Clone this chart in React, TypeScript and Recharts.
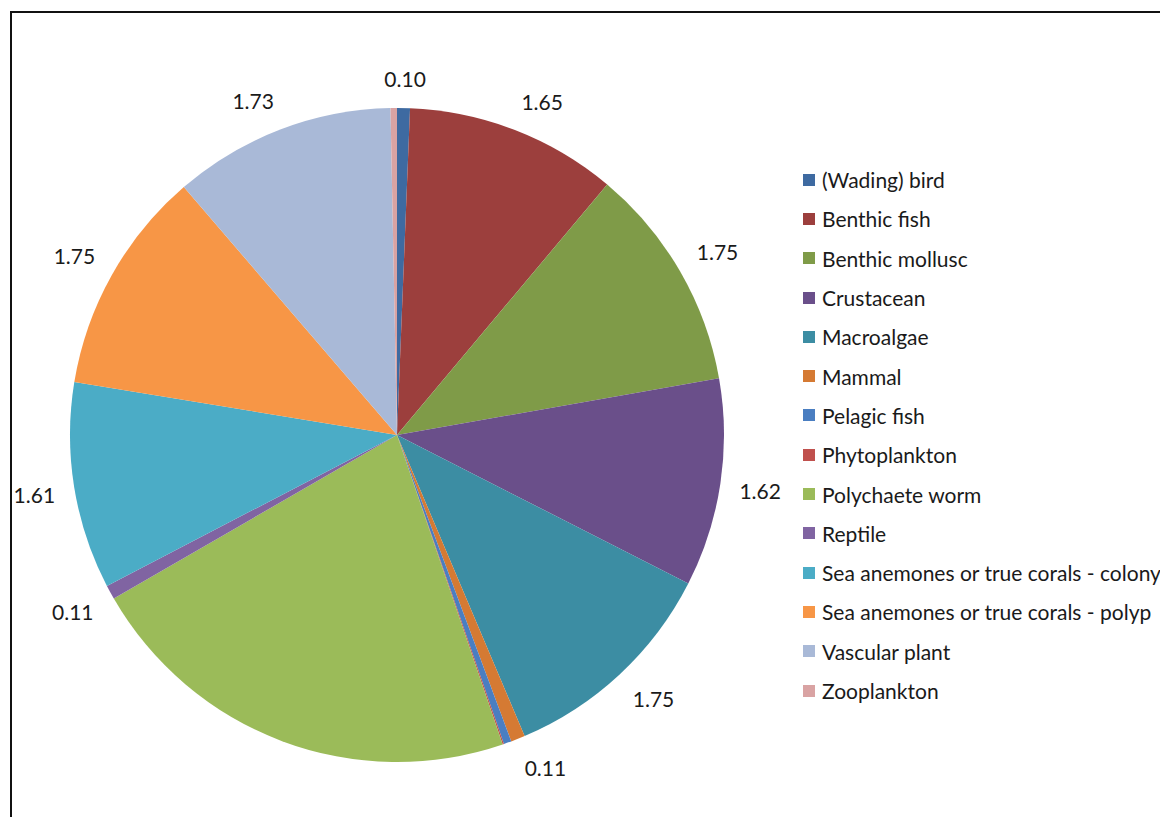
import { PieChart, Pie, Cell, Legend } from 'recharts'

const categories = [
  '(Wading) bird',
  'Benthic fish',
  'Benthic mollusc',
  'Crustacean',
  'Macroalgae',
  'Mammal',
  'Pelagic fish',
  'Phytoplankton',
  'Polychaete worm',
  'Reptile',
  'Sea anemones or true corals - colony',
  'Sea anemones or true corals - polyp',
  'Vascular plant',
  'Zooplankton',
]

const values = [0.1, 1.65, 1.75, 1.62, 1.75, 0.11, 0.06, 0.01, 3.45, 0.11, 1.61, 1.75, 1.73, 0.05]

// which slices carry a data label in the original
const showLabel = [true, true, true, true, true, true, false, false, false, true, true, true, true, false]

const colors = [
  '#3E6AA1',
  '#9C3F3D',
  '#7F9B48',
  '#6A4F8A',
  '#3C8DA3',
  '#D57A33',
  '#4A7EC1',
  '#C0504D',
  '#9BBB59',
  '#8064A2',
  '#4BACC6',
  '#F79646',
  '#A9B9D7',
  '#D9A3A3',
]

const chartData = categories.map((name, i) => ({ name, value: values[i] }))

const FONT = 'Lato, "Open Sans", sans-serif'
const RADIAN = Math.PI / 180

const clamp = (v: number) => Math.max(-1, Math.min(1, v))

// Excel-style "outside end": the label box sits just beyond the rim
const renderLabel = (props: any) => {
  const { cx, cy, midAngle, outerRadius, index, value } = props
  if (!showLabel[index]) return null
  const r = outerRadius + 20
  const c = Math.cos(-midAngle * RADIAN)
  const s = Math.sin(-midAngle * RADIAN)
  const x = cx + r * c + 20 * clamp(c * 3)
  const y = cy + r * s + 10 * clamp(s * 3)
  return (
    <text x={x} y={y} textAnchor="middle" dominantBaseline="central" fill="#1a1a1a" fontSize={21} fontFamily={FONT}>
      {Number(value).toFixed(2)}
    </text>
  )
}

const CustomLegend = () => (
  <div style={{ fontFamily: FONT, fontSize: 21, color: '#1a1a1a' }}>
    {categories.map((name, i) => (
      <div key={name} style={{ display: 'flex', alignItems: 'center', height: 39.3, whiteSpace: 'nowrap' }}>
        <div style={{ width: 12, height: 12, backgroundColor: colors[i], marginRight: 7 }} />
        <span>{name}</span>
      </div>
    ))}
  </div>
)

export default function App() {
  return (
    <div style={{ position: 'relative', width: 1160, height: 809, overflow: 'hidden', background: '#fff' }}>
      <div
        style={{
          position: 'absolute',
          left: 2,
          top: 3,
          width: 1200,
          height: 900,
          borderTop: '2px solid #111',
          borderLeft: '2px solid #111',
        }}
      />
      <PieChart
        width={1160}
        height={809}
        margin={{ top: 0, right: 0, bottom: 0, left: 0 }}
        style={{ position: 'absolute', left: 0, top: 0 }}
      >
        <Pie
          data={chartData}
          dataKey="value"
          nameKey="name"
          cx={389}
          cy={427}
          outerRadius={327}
          startAngle={90}
          endAngle={-270}
          stroke="none"
          labelLine={false}
          label={renderLabel}
          isAnimationActive={false}
        >
          {chartData.map((entry, index) => (
            <Cell key={`cell-${index}`} fill={colors[index]} />
          ))}
        </Pie>
        <Legend
          layout="vertical"
          content={<CustomLegend />}
          wrapperStyle={{ left: 795, top: 152, width: 400 }}
        />
      </PieChart>
    </div>
  )
}
